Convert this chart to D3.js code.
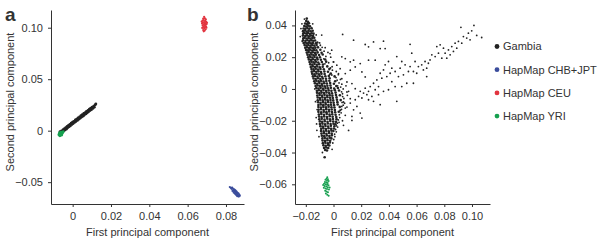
<!DOCTYPE html>
<html>
<head>
<meta charset="utf-8">
<script src="https://cdn.jsdelivr.net/npm/d3@7"></script>
<style>
body { margin: 0; background: #fff; }
text { font-family: "Liberation Sans", Arial, sans-serif; fill: #333; }
</style>
</head>
<body>
<div id="chart"></div>
<script>
// populations (legend order)
const groups = ["Gambia", "HapMap CHB+JPT", "HapMap CEU", "HapMap YRI"];
const groupColors = ["#222222", "#3b4d9c", "#e2343f", "#16a04f"];

// tick labels
const aXTicks = [0, 0.02, 0.04, 0.06, 0.08];
const aYTicks = [-0.05, 0, 0.05, 0.10];
const bXTicks = [-0.02, 0, 0.02, 0.04, 0.06, 0.08, 0.10];
const bYTicks = [-0.06, -0.04, -0.02, 0, 0.02, 0.04];

// panel a: [PC1, PC2]
const aGambia = [[-.0066,-.0010],[-.0062,-.0024],[-.0058,-.0002],[-.0054,-.0012],[-.0050,.0010],[-.0047,-.0002],[-.0043,.0019],[-.0040,.0006],[-.0036,.0030],[-.0033,.0015],[-.0029,.0042],[-.0026,.0028],[-.0022,.0052],[-.0019,.0037],[-.0015,.0061],[-.0012,.0046],[-.0008,.0072],[-.0004,.0060],[-.0001,.0083],[.0003,.0070],[.0006,.0091],[.0010,.0080],[.0014,.0104],[.0017,.0089],[.0021,.0113],[.0025,.0100],[.0028,.0124],[.0032,.0111],[.0036,.0135],[.0039,.0121],[.0043,.0146],[.0047,.0132],[.0050,.0156],[.0054,.0141],[.0058,.0167],[.0061,.0152],[.0065,.0176],[.0069,.0163],[.0072,.0188],[.0076,.0173],[.0080,.0198],[.0083,.0184],[.0087,.0208],[.0091,.0195],[.0094,.0218],[.0098,.0204],[.0102,.0229],[.0106,.0216],[.0110,.0239],[.0113,.0228],[.0117,.0250],[.0121,.0259]];
const aCHB = [[.0820,-.0548],[.0826,-.0556],[.0832,-.0552],[.0829,-.0565],[.0836,-.0562],[.0842,-.0570],[.0838,-.0578],[.0846,-.0575],[.0850,-.0583],[.0843,-.0587],[.0854,-.0590],[.0848,-.0595],[.0858,-.0598],[.0852,-.0603],[.0862,-.0605],[.0845,-.0608],[.0856,-.0612],[.0866,-.0612],[.0850,-.0618],[.0860,-.0620],[.0870,-.0622],[.0855,-.0627],[.0864,-.0630],[.0872,-.0633],[.0859,-.0636],[.0867,-.0640],[.0840,-.0600],[.0834,-.0585]];
const aCEU = [[.0686,.1105],[.0690,.1092],[.0681,.1088],[.0695,.1080],[.0684,.1075],[.0678,.1068],[.0691,.1066],[.0697,.1058],[.0686,.1055],[.0680,.1050],[.0692,.1045],[.0675,.1042],[.0687,.1038],[.0699,.1035],[.0683,.1030],[.0693,.1027],[.0678,.1022],[.0688,.1018],[.0696,.1012],[.0682,.1008],[.0690,.1003],[.0676,.0998],[.0686,.0992],[.0694,.0985],[.0681,.0978],[.0689,.0972],[.0684,.0965],[.0701,.1048],[.0673,.1060],[.0698,.1000]];
const aYRI = [[-.0070,-.0030],[-.0066,-.0038],[-.0062,-.0025],[-.0068,-.0020],[-.0058,-.0035],[-.0064,-.0045],[-.0055,-.0028],[-.0060,-.0015],[-.0072,-.0040],[-.0052,-.0018],[-.0057,-.0042],[-.0049,-.0010],[-.0067,-.0050],[-.0061,-.0033]];

// panel b: Gambia core (dense wedge)
const bGambiaCore = [[-.0193,.0443],[-.0197,.0427],[-.0184,.0422],[-.0205,.0412],[-.0191,.0408],[-.0177,.0413],[-.0211,.0396],[-.0198,.0393],[-.0184,.0398],[-.0170,.0394],[-.0216,.0381],[-.0203,.0378],[-.0189,.0383],[-.0175,.0379],[-.0158,.0382],[-.0220,.0364],[-.0207,.0368],[-.0194,.0362],[-.0180,.0367],[-.0165,.0363],[-.0150,.0366],[-.0219,.0348],[-.0212,.0353],[-.0198,.0349],[-.0185,.0352],[-.0171,.0347],[-.0157,.0351],[-.0144,.0348],[-.0221,.0336],[-.0204,.0333],[-.0191,.0337],[-.0177,.0332],[-.0163,.0336],[-.0148,.0333],[-.0218,.0319],[-.0209,.0322],[-.0195,.0318],[-.0181,.0321],[-.0168,.0317],[-.0153,.0320],[-.0139,.0322],[-.0220,.0306],[-.0202,.0303],[-.0188,.0307],[-.0174,.0302],[-.0160,.0306],[-.0146,.0303],[-.0133,.0305],[-.0216,.0289],[-.0205,.0292],[-.0192,.0288],[-.0178,.0291],[-.0164,.0287],[-.0149,.0290],[-.0128,.0288],[-.0117,.0292],[-.0209,.0276],[-.0196,.0273],[-.0182,.0277],[-.0168,.0272],[-.0154,.0276],[-.0139,.0273],[-.0122,.0277],[-.0204,.0259],[-.0190,.0262],[-.0176,.0258],[-.0161,.0261],[-.0147,.0257],[-.0131,.0260],[-.0112,.0262],[-.0198,.0246],[-.0184,.0243],[-.0170,.0247],[-.0155,.0242],[-.0140,.0246],[-.0124,.0244],[-.0095,.0247],[-.0193,.0229],[-.0179,.0232],[-.0164,.0228],[-.0149,.0231],[-.0133,.0227],[-.0115,.0230],[-.0086,.0228],[-.0188,.0216],[-.0173,.0213],[-.0158,.0217],[-.0143,.0212],[-.0127,.0216],[-.0104,.0214],[-.0078,.0217],[-.0183,.0199],[-.0168,.0202],[-.0153,.0198],[-.0137,.0201],[-.0120,.0197],[-.0098,.0200],[-.0178,.0186],[-.0163,.0183],[-.0148,.0187],[-.0132,.0182],[-.0115,.0186],[-.0091,.0184],[-.0060,.0185],[-.0173,.0169],[-.0158,.0172],[-.0143,.0168],[-.0127,.0171],[-.0110,.0167],[-.0084,.0170],[-.0053,.0172],[-.0168,.0156],[-.0153,.0153],[-.0137,.0157],[-.0121,.0152],[-.0103,.0156],[-.0076,.0154],[-.0164,.0139],[-.0149,.0142],[-.0133,.0138],[-.0117,.0141],[-.0099,.0137],[-.0078,.0140],[-.0045,.0142],[-.0159,.0126],[-.0144,.0123],[-.0128,.0127],[-.0112,.0122],[-.0094,.0126],[-.0070,.0124],[-.0030,.0125],[-.0157,.0109],[-.0141,.0112],[-.0125,.0108],[-.0108,.0111],[-.0090,.0107],[-.0066,.0110],[-.0040,.0108],[-.0154,.0096],[-.0138,.0093],[-.0122,.0097],[-.0105,.0092],[-.0087,.0096],[-.0064,.0094],[-.0020,.0097],[-.0149,.0079],[-.0134,.0082],[-.0117,.0078],[-.0100,.0081],[-.0082,.0077],[-.0059,.0080],[-.0034,.0082],[.0008,.0079],[-.0144,.0066],[-.0129,.0063],[-.0112,.0067],[-.0095,.0062],[-.0077,.0066],[-.0054,.0064],[-.0028,.0067],[-.0139,.0049],[-.0124,.0052],[-.0107,.0048],[-.0090,.0051],[-.0072,.0047],[-.0052,.0050],[-.0030,.0052],[.0012,.0049],[-.0134,.0036],[-.0119,.0033],[-.0102,.0037],[-.0085,.0032],[-.0067,.0036],[-.0048,.0034],[-.0024,.0037],[.0003,.0033],[-.0129,.0019],[-.0114,.0022],[-.0098,.0018],[-.0081,.0021],[-.0063,.0017],[-.0044,.0020],[-.0022,.0022],[.0020,.0019],[-.0124,.0006],[-.0109,.0003],[-.0093,.0007],[-.0076,.0002],[-.0058,.0006],[-.0040,.0004],[-.0019,.0007],[.0005,.0003],[.0032,.0006],[-.0120,-.0011],[-.0105,-.0008],[-.0089,-.0012],[-.0072,-.0007],[-.0054,-.0011],[-.0035,-.0009],[-.0015,-.0012],[.0010,-.0008],[.0040,-.0010],[-.0119,-.0024],[-.0102,-.0027],[-.0086,-.0023],[-.0068,-.0026],[-.0050,-.0022],[-.0031,-.0025],[-.0011,-.0027],[.0015,-.0023],[-.0117,-.0041],[-.0100,-.0038],[-.0083,-.0042],[-.0065,-.0037],[-.0047,-.0041],[-.0028,-.0039],[-.0008,-.0042],[.0018,-.0038],[.0046,-.0040],[-.0114,-.0054],[-.0098,-.0057],[-.0080,-.0053],[-.0062,-.0056],[-.0044,-.0052],[-.0025,-.0055],[-.0005,-.0057],[.0022,-.0053],[-.0114,-.0071],[-.0096,-.0068],[-.0078,-.0072],[-.0060,-.0067],[-.0042,-.0071],[-.0022,-.0069],[-.0002,-.0072],[.0025,-.0068],[.0052,-.0070],[-.0111,-.0084],[-.0094,-.0087],[-.0076,-.0083],[-.0058,-.0086],[-.0039,-.0082],[-.0020,-.0085],[.0001,-.0087],[.0028,-.0083],[-.0109,-.0101],[-.0092,-.0098],[-.0074,-.0102],[-.0056,-.0097],[-.0037,-.0101],[-.0018,-.0099],[.0004,-.0102],[.0030,-.0098],[-.0109,-.0114],[-.0091,-.0117],[-.0073,-.0113],[-.0054,-.0116],[-.0035,-.0112],[-.0015,-.0115],[.0007,-.0117],[.0045,-.0113],[-.0108,-.0131],[-.0090,-.0128],[-.0071,-.0132],[-.0052,-.0127],[-.0033,-.0131],[-.0013,-.0129],[.0010,-.0132],[-.0109,-.0144],[-.0089,-.0147],[-.0070,-.0143],[-.0051,-.0146],[-.0031,-.0142],[-.0011,-.0145],[.0012,-.0147],[.0038,-.0143],[-.0106,-.0161],[-.0088,-.0158],[-.0069,-.0162],[-.0049,-.0157],[-.0029,-.0161],[-.0009,-.0159],[.0015,-.0162],[-.0104,-.0174],[-.0086,-.0177],[-.0067,-.0173],[-.0047,-.0176],[-.0027,-.0172],[-.0006,-.0175],[.0020,-.0177],[-.0103,-.0191],[-.0085,-.0188],[-.0065,-.0192],[-.0045,-.0187],[-.0025,-.0191],[-.0004,-.0189],[.0022,-.0190],[-.0099,-.0204],[-.0082,-.0207],[-.0063,-.0203],[-.0043,-.0206],[-.0023,-.0202],[-.0002,-.0205],[.0018,-.0207],[-.0098,-.0221],[-.0080,-.0218],[-.0061,-.0222],[-.0041,-.0217],[-.0021,-.0221],[.0000,-.0219],[.0014,-.0222],[-.0094,-.0234],[-.0077,-.0237],[-.0058,-.0233],[-.0039,-.0236],[-.0019,-.0232],[.0006,-.0235],[-.0089,-.0251],[-.0073,-.0248],[-.0055,-.0252],[-.0036,-.0247],[-.0017,-.0251],[.0003,-.0249],[-.0090,-.0264],[-.0071,-.0267],[-.0053,-.0263],[-.0034,-.0266],[-.0015,-.0262],[-.0001,-.0265],[-.0087,-.0281],[-.0069,-.0278],[-.0051,-.0282],[-.0032,-.0277],[-.0013,-.0281],[-.0084,-.0294],[-.0067,-.0297],[-.0048,-.0293],[-.0030,-.0296],[-.0012,-.0292],[-.0080,-.0311],[-.0063,-.0308],[-.0045,-.0312],[-.0027,-.0307],[-.0015,-.0311],[-.0079,-.0324],[-.0061,-.0327],[-.0043,-.0323],[-.0024,-.0326],[-.0077,-.0341],[-.0059,-.0338],[-.0041,-.0342],[-.0026,-.0337],[-.0073,-.0354],[-.0056,-.0357],[-.0039,-.0353],[-.0030,-.0356],[-.0068,-.0371],[-.0052,-.0368],[-.0038,-.0372],[-.0060,-.0384],[-.0047,-.0387],[-.0064,-.0430]];
// panel b: Gambia scattered arm and ragged edge
const bGambiaSpread = [[-.0100,.0290],[-.0060,.0260],[-.0040,.0230],[-.0020,.0200],[.0000,.0170],[-.0070,.0190],[-.0010,.0140],[.0020,.0110],[.0035,.0090],[.0050,.0060],[.0060,.0030],[.0070,.0000],[.0065,-.0030],[.0075,-.0060],[.0080,-.0090],[.0060,-.0110],[.0055,-.0150],[.0045,-.0180],[.0040,-.0210],[.0030,-.0240],[.0020,-.0270],[.0010,-.0300],[-.0005,-.0340],[.0090,.0020],[.0100,-.0040],[.0085,-.0120],[.0065,-.0200],[-.0120,-.0260],[-.0105,-.0300],[-.0125,-.0180],[-.0130,-.0080],[-.0135,.0000],[-.0240,.0330],[-.0235,.0380],[-.0210,.0440],[-.0150,.0410],[-.0125,.0340],[-.0010,-.0380],[-.0080,-.0400],[-.0028,.0090],[.0030,.0020],[-.0095,.0275],[-.0082,.0262],[-.0068,.0238],[-.0055,.0205],[-.0062,.0158],[-.0035,.0165],[-.0022,.0132],[-.0008,.0118],[-.0012,.0088],[.0018,.0072],[.0026,.0055],[.0040,.0038],[.0052,.0012],[.0058,-.0018],[.0066,-.0048],[.0062,-.0085],[.0070,-.0102],[.0058,-.0128],[.0050,-.0135],[.0042,-.0162],[.0035,-.0195],[.0028,-.0215],[.0022,-.0232],[.0015,-.0255],[.0008,-.0285],[.0002,-.0318],[-.0118,-.0130],[-.0122,-.0220],[-.0226,.0300],[-.0228,.0410],[.1014,.0400],[.0920,.0388],[.0998,.0366],[.1034,.0337],[.1070,.0324],[.0974,.0351],[.0962,.0320],[.0986,.0309],[.0938,.0330],[.0902,.0299],[.0878,.0288],[.0926,.0288],[.0854,.0267],[.0890,.0257],[.0866,.0236],[.0830,.0246],[.0806,.0225],[.0842,.0215],[.0794,.0257],[.0770,.0278],[.0746,.0267],[.0758,.0225],[.0734,.0204],[.0710,.0215],[.0782,.0194],[.0818,.0194],[.0697,.0183],[.0685,.0162],[.0661,.0173],[.0673,.0131],[.0649,.0120],[.0637,.0152],[.0613,.0141],[.0589,.0173],[.0565,.0225],[.0553,.0141],[.0577,.0110],[.0601,.0099],[.0541,.0110],[.0517,.0152],[.0493,.0173],[.0481,.0131],[.0505,.0089],[.0469,.0078],[.0445,.0110],[.0421,.0131],[.0409,.0099],[.0457,.0204],[.0397,.0173],[.0373,.0152],[.0361,.0120],[.0385,.0078],[.0421,.0046],[.0445,.0015],[.0493,.0015],[.0529,.0036],[.0577,.0036],[.0673,.0078],[.0349,.0068],[.0337,.0099],[.0313,.0057],[.0325,.0015],[.0289,.0036],[.0301,-.0005],[.0265,.0015],[.0253,-.0015],[.0229,.0005],[.0241,-.0036],[.0217,-.0026],[.0193,-.0015],[.0205,-.0057],[.0277,-.0047],[.0325,-.0036],[.0361,-.0015],[.0397,-.0005],[.0457,-.0078],[.0337,-.0099],[.0289,-.0078],[.0253,-.0068],[.0181,-.0047],[.0157,-.0068],[.0169,-.0110],[.0145,-.0131],[.0193,-.0152],[.0133,-.0173],[.0205,-.0183],[.0121,-.0089],[.0109,-.0015],[.0066,.0343],[.0145,.0307],[.0229,.0280],[.0253,.0265],[.0289,.0296],[.0361,.0301],[.0337,.0254],[.0373,.0254],[.0301,.0181],[.0253,.0181],[.0193,.0160],[.0145,.0181],[.0121,.0171],[.0085,.0191],[.0060,.0202],[.0157,.0139],[.0205,.0107],[.0229,.0076],[.0121,.0118],[.0085,.0097],[.0048,.0128],[.0024,.0150],[.0000,.0170],[-.0013,.0244],[.0036,.0097],[.0060,.0065],[.0097,.0044],[.0133,.0034],[.0157,.0002],[.0097,-.0019],[.0121,-.0061],[.0072,-.0082],[.0097,-.0114],[.0048,-.0134],[.0085,-.0166],[.0133,-.0198],[.0072,-.0229],[.0109,-.0261],[.0553,.0281],[-.0085,.0339],[-.0025,.0223]];
const bYRI = [[-.0045,-.0555],[-.0050,-.0565],[-.0040,-.0568],[-.0058,-.0572],[-.0047,-.0578],[-.0035,-.0580],[-.0062,-.0585],[-.0052,-.0588],[-.0042,-.0592],[-.0068,-.0596],[-.0056,-.0600],[-.0046,-.0603],[-.0036,-.0606],[-.0064,-.0610],[-.0052,-.0614],[-.0041,-.0618],[-.0070,-.0622],[-.0058,-.0626],[-.0047,-.0630],[-.0033,-.0633],[-.0060,-.0640],[-.0050,-.0645],[-.0040,-.0650],[-.0055,-.0658],[-.0045,-.0665],[-.0035,-.0672],[-.0028,-.0620],[-.0075,-.0605]];

const width = 600, height = 242;

const svg = d3.select('#chart')
  .append('svg')
  .attr('width', width)
  .attr('height', height);

const fmt = d => d === 0 ? "0" : d3.format(".2f")(d);

function panel(opt) {
  const x = d3.scaleLinear().domain(opt.xDomain).range(opt.xRange);
  const y = d3.scaleLinear().domain(opt.yDomain).range(opt.yRange);

  const xAxis = svg.append('g')
    .attr('transform', `translate(0,${opt.yRange[0]})`)
    .call(d3.axisBottom(x).tickValues(opt.xTicks).tickFormat(fmt)
      .tickSize(3).tickSizeOuter(0).tickPadding(5));
  const yAxis = svg.append('g')
    .attr('transform', `translate(${opt.xRange[0]},0)`)
    .call(d3.axisLeft(y).tickValues(opt.yTicks).tickFormat(fmt)
      .tickSize(3).tickSizeOuter(0).tickPadding(5));

  [xAxis, yAxis].forEach(g => {
    g.attr('font-size', null).attr('font-family', null);
    g.selectAll('path, line').attr('stroke', '#333');
    g.selectAll('text').attr('fill', '#333').style('font-size', '11px');
  });

  opt.series.forEach(s => {
    svg.append('g').selectAll('circle')
      .data(s.data)
      .enter()
      .append('circle')
      .attr('cx', d => x(d[0]))
      .attr('cy', d => y(d[1]))
      .attr('r', s.r)
      .attr('fill', groupColors[s.group]);
  });

  svg.append('text')
    .attr('x', (opt.xRange[0] + opt.xRange[1]) / 2)
    .attr('y', 236)
    .attr('text-anchor', 'middle')
    .style('font-size', '11px')
    .text('First principal component');

  svg.append('text')
    .attr('transform', `translate(${opt.yTitleX},102) rotate(-90)`)
    .attr('text-anchor', 'middle')
    .style('font-size', '11px')
    .text('Second principal component');

  svg.append('text')
    .attr('x', opt.labelX)
    .attr('y', 21)
    .style('font-size', '19px')
    .style('font-weight', 'bold')
    .attr('fill', '#111')
    .text(opt.label);
}

panel({
  label: 'a', labelX: 5, yTitleX: 14,
  xDomain: [-0.0113, 0.0894], xRange: [51, 244],
  yDomain: [-0.0712, 0.1172], yRange: [204, 10],
  xTicks: aXTicks, yTicks: aYTicks,
  series: [
    { data: aGambia, group: 0, r: 1.4 },
    { data: aCHB, group: 1, r: 1.1 },
    { data: aCEU, group: 2, r: 1.1 },
    { data: aYRI, group: 3, r: 1.4 }
  ]
});

panel({
  label: 'b', labelX: 247, yTitleX: 258,
  xDomain: [-0.0278, 0.113], xRange: [295, 490],
  yDomain: [-0.0724, 0.0497], yRange: [204, 10],
  xTicks: bXTicks, yTicks: bYTicks,
  series: [
    { data: bGambiaCore, group: 0, r: 1.3 },
    { data: bGambiaSpread, group: 0, r: 0.9 },
    { data: bYRI, group: 3, r: 1.0 }
  ]
});

// legend
const legend = svg.append('g')
  .selectAll('g')
  .data(groups)
  .enter()
  .append('g')
  .attr('transform', (d, i) => `translate(497,${46.5 + i * 23.2})`);

legend.append('circle')
  .attr('r', 2.4)
  .attr('fill', (d, i) => groupColors[i]);

legend.append('text')
  .attr('x', 6)
  .attr('dy', '0.35em')
  .style('font-size', '11px')
  .text(d => d);
</script>
</body>
</html>
